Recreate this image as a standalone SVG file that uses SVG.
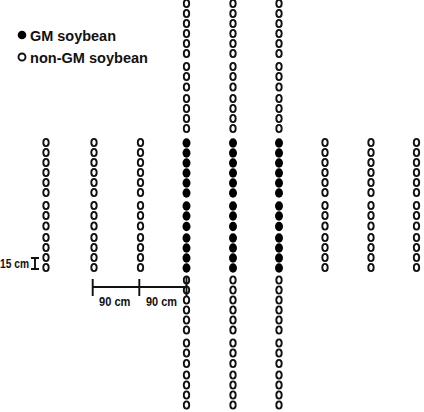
<svg xmlns="http://www.w3.org/2000/svg" xmlns:xlink="http://www.w3.org/1999/xlink" width="424" height="412" viewBox="0 0 424 412">
<style>
.o{fill:none;stroke:#111;stroke-width:1.9}
.f{fill:#000}
.t{font-family:"Liberation Sans",Arial,sans-serif;font-weight:bold;fill:#111}
.dim{stroke:#111;stroke-width:1.9;fill:none}
</style>
<defs>
<ellipse id="oc" class="o" cx="0" cy="0" rx="2.7" ry="3.6"/>
<ellipse id="fc" class="f" cx="0" cy="0" rx="4" ry="4.7"/>
<g id="ob">
<use href="#oc" y="0"/><use href="#oc" y="10"/><use href="#oc" y="20"/><use href="#oc" y="30"/><use href="#oc" y="40"/><use href="#oc" y="50"/><use href="#oc" y="63"/><use href="#oc" y="73"/><use href="#oc" y="83.5"/><use href="#oc" y="95"/><use href="#oc" y="105"/><use href="#oc" y="115"/><use href="#oc" y="125"/>
</g>
<g id="fb">
<use href="#fc" y="0"/><use href="#fc" y="10"/><use href="#fc" y="20"/><use href="#fc" y="30"/><use href="#fc" y="40"/><use href="#fc" y="50"/><use href="#fc" y="63"/><use href="#fc" y="73"/><use href="#fc" y="83.5"/><use href="#fc" y="95"/><use href="#fc" y="105"/><use href="#fc" y="115"/><use href="#fc" y="125"/>
</g>
</defs>
<rect width="424" height="412" fill="#fff"/>
<g id="legend">
<circle cx="22" cy="35" r="4.3" fill="#000"/>
<text class="t" x="30" y="40.5" font-size="14.5" textLength="86" lengthAdjust="spacingAndGlyphs">GM soybean</text>
<circle cx="22" cy="57" r="3.5" class="o"/>
<text class="t" x="30" y="62.5" font-size="14.5" textLength="118" lengthAdjust="spacingAndGlyphs">non-GM soybean</text>
</g>
<g id="row1"><use href="#ob" x="46" y="142.5"/></g>
<g id="row2"><use href="#ob" x="94" y="142.5"/></g>
<g id="row3"><use href="#ob" x="140.5" y="142.5"/></g>
<g id="row4"><use href="#ob" x="186.5" y="3.5"/><use href="#fb" x="186.5" y="143"/><use href="#ob" x="186.5" y="280"/></g>
<g id="row5"><use href="#ob" x="233" y="3.5"/><use href="#fb" x="233" y="143"/><use href="#ob" x="233" y="280"/></g>
<g id="row6"><use href="#ob" x="279" y="3.5"/><use href="#fb" x="279" y="143"/><use href="#ob" x="279" y="280"/></g>
<g id="row7"><use href="#ob" x="325" y="142.5"/></g>
<g id="row8"><use href="#ob" x="371" y="142.5"/></g>
<g id="row9"><use href="#ob" x="416.5" y="142.5"/></g>
<g id="connectors">
<path class="dim" d="M35 258V269M31 258H39M31 269H39"/>
<path class="dim" d="M92.7 287H186.5M92.7 279V296M139.3 279V296M186.5 277V296"/>
</g>
<g id="labels">
<text class="t" x="0" y="267.5" font-size="12" textLength="29" lengthAdjust="spacingAndGlyphs">15 cm</text>
<text class="t" x="99" y="305.5" font-size="12" textLength="31.5" lengthAdjust="spacingAndGlyphs">90 cm</text>
<text class="t" x="146" y="305.5" font-size="12" textLength="31" lengthAdjust="spacingAndGlyphs">90 cm</text>
</g>
</svg>
